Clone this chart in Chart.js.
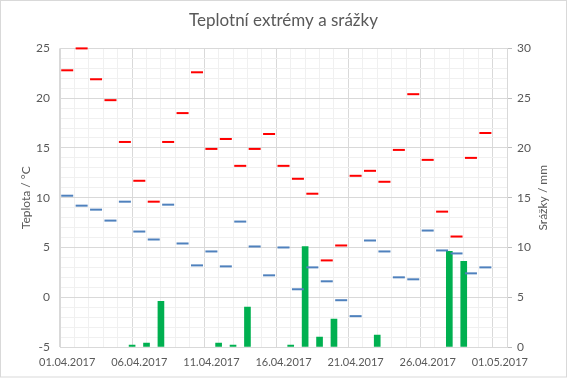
<!DOCTYPE html>
<html>
<head>
<meta charset="utf-8">
<script src="https://cdn.jsdelivr.net/npm/chart.js@4.4.1/dist/chart.umd.min.js"></script>
<style>
  html, body { margin: 0; padding: 0; background: #fff; }
  #wrap { width: 567px; height: 378px; position: relative; }
</style>
</head>
<body>
<div id="wrap"><canvas id="chart" width="567" height="378"></canvas></div>
<script>
// ── Data (April 2017, one value per day) ─────────────────────────────
const dateTicks = ['01.04.2017', '06.04.2017', '11.04.2017', '16.04.2017', '21.04.2017', '26.04.2017', '01.05.2017'];

const tMax = [22.8, 25.0, 21.9, 19.8, 15.6, 11.7, 9.6, 15.6, 18.5, 22.6,
              14.9, 15.9, 13.2, 14.9, 16.4, 13.2, 11.9, 10.4, 3.7, 5.2,
              12.2, 12.7, 11.6, 14.8, 20.4, 13.8, 8.6, 6.1, 14.0, 16.5];

const tMin = [10.2, 9.2, 8.8, 7.7, 9.6, 6.6, 5.8, 9.3, 5.4, 3.2,
              4.6, 3.1, 7.6, 5.1, 2.2, 5.0, 0.8, 3.0, 1.6, -0.3,
              -1.9, 5.7, 4.6, 2.0, 1.8, 6.7, 4.7, 4.4, 2.4, 3.0];

// precipitation, bar i sits between day i and day i+1
const precip = [0, 0, 0, 0, 0.2, 0.4, 4.6, 0, 0, 0,
                0.4, 0.2, 4.0, 0, 0, 0.2, 10.1, 1.0, 2.8, 0,
                0, 1.2, 0, 0, 0, 0, 9.6, 8.6, 0, 0];

const TEXT = '#595959';
const GRID_MAJOR = '#d9d9d9';
const GRID_MINOR = '#f0f0f0';
const FONT = 'Lato, "Open Sans", sans-serif';

const dash = (arr) => arr.map((v, i) => ({ x: i, y: v }));

// ── Plugins: frame + axis titles (right one reads bottom-to-top) ────
const extras = {
  id: 'extras',
  afterDraw(chart) {
    const { ctx, chartArea } = chart;
    ctx.save();
    ctx.strokeStyle = '#d9d9d9';
    ctx.lineWidth = 1;
    ctx.strokeRect(0.5, 0.5, chart.width - 1, chart.height - 1.5);
    ctx.fillStyle = TEXT;
    ctx.font = '12px ' + FONT;
    ctx.textAlign = 'center';
    ctx.textBaseline = 'middle';
    const cy = (chartArea.top + chartArea.bottom) / 2;
    [['Teplota / °C', 26], ['Srážky / mm', 543]].forEach(([txt, x]) => {
      ctx.save();
      ctx.translate(x, cy);
      ctx.rotate(-Math.PI / 2);
      ctx.fillText(txt, 0, 0);
      ctx.restore();
    });
    ctx.restore();
  }
};

new Chart(document.getElementById('chart'), {
  data: {
    datasets: [
      {
        type: 'line', label: 'max', data: dash(tMax), yAxisID: 'y', order: 1, clip: false,
        showLine: false, pointStyle: 'line', pointRadius: 6, pointHoverRadius: 6,
        borderColor: '#ff0000', borderWidth: 2, pointBorderWidth: 2
      },
      {
        type: 'line', label: 'min', data: dash(tMin), yAxisID: 'y', order: 2, clip: false,
        showLine: false, pointStyle: 'line', pointRadius: 6, pointHoverRadius: 6,
        borderColor: '#4f81bd', borderWidth: 2, pointBorderWidth: 2
      },
      {
        type: 'bar', label: 'srážky',
        data: precip.map((v, i) => ({ x: i + 0.5, y: v > 0 ? v : null })),
        yAxisID: 'y2', order: 3, backgroundColor: '#00b050', borderWidth: 0, barThickness: 6
      }
    ]
  },
  options: {
    responsive: false,
    animation: false,
    layout: { padding: { top: 0, right: 0, bottom: 0, left: 0 } },
    plugins: {
      legend: { display: false },
      tooltip: { enabled: false },
      title: {
        display: true,
        text: 'Teplotní extrémy a srážky',
        color: TEXT,
        font: { family: FONT, size: 17, weight: 'normal' },
        padding: { top: 10, bottom: 18 }
      }
    },
    scales: {
      x: {
        type: 'linear', min: 0, max: 30,
        afterFit: s => { s.height = 31; },
        ticks: {
          stepSize: 1, autoSkip: false, maxRotation: 0, maxTicksLimit: 100,
          color: TEXT, font: { family: FONT, size: 11 }, padding: 9,
          callback: v => (v % 5 === 0 ? dateTicks[v / 5] : '')
        },
        grid: {
          drawTicks: false,
          color: c => (c.tick && c.tick.value % 5 === 0 ? GRID_MAJOR : GRID_MINOR)
        },
        border: { color: GRID_MAJOR }
      },
      y: {
        position: 'left', min: -5, max: 25,
        afterFit: s => { s.width = 60; },
        ticks: {
          stepSize: 1, autoSkip: false, maxTicksLimit: 100,
          color: TEXT, font: { family: FONT, size: 12 }, padding: 10,
          callback: v => (v % 5 === 0 ? v : '')
        },
        grid: {
          drawTicks: false,
          color: c => (c.tick && c.tick.value % 5 === 0 ? GRID_MAJOR : GRID_MINOR)
        },
        border: { color: GRID_MAJOR }
      },
      y2: {
        position: 'right', min: 0, max: 30,
        afterFit: s => { s.width = 60; },
        ticks: { stepSize: 5, autoSkip: false, color: TEXT, font: { family: FONT, size: 12 }, padding: 5 },
        grid: { drawOnChartArea: false, tickLength: 5, color: '#bfbfbf' },
        border: { color: GRID_MAJOR }
      }
    }
  },
  plugins: [extras]
});
</script>
</body>
</html>
